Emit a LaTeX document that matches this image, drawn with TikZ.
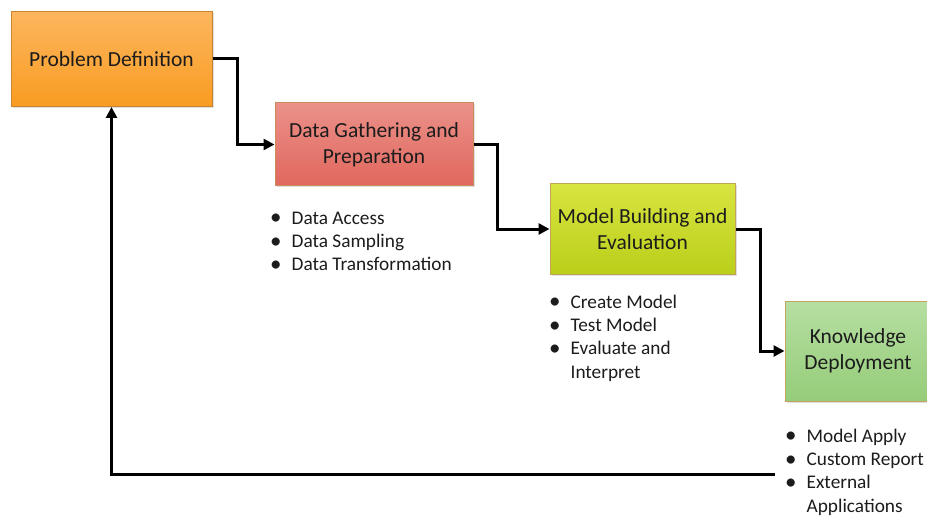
\documentclass[tikz,border=0pt]{standalone}
\usepackage{fontspec}
\setmainfont{Carlito}
\usetikzlibrary{arrows.meta,shadows}

\definecolor{orangeTop}{HTML}{FDB65E}
\definecolor{orangeBot}{HTML}{F89C22}
\definecolor{orangeLine}{HTML}{C8842E}
\definecolor{redTop}{HTML}{EB9189}
\definecolor{redBot}{HTML}{E0675E}
\definecolor{redLine}{HTML}{C98C5C}
\definecolor{limeTop}{HTML}{D8E440}
\definecolor{limeBot}{HTML}{BACF1A}
\definecolor{limeLine}{HTML}{C2A453}
\definecolor{greenTop}{HTML}{B6DFA2}
\definecolor{greenBot}{HTML}{95CC79}
\definecolor{greenLine}{HTML}{C4A462}
\definecolor{ink}{HTML}{1C1C1C}

\tikzset{
  stage/.style={rectangle, line width=1pt, inner sep=0pt, align=center,
    text=ink, font=\fontsize{21.5}{26}\selectfont,
    drop shadow={shadow xshift=1.5pt, shadow yshift=-1.5pt, opacity=0.25}},
  conn/.style={line width=3pt, draw=black,
    -{Triangle[length=11pt,width=11pt]}},
  items/.style={anchor=north west, inner sep=0pt, text=ink,
    font=\fontsize{19.3}{23.2}\selectfont}
}
\newcommand{\bulletlist}[1]{%
  \begin{tabular}{@{}l@{\hspace{10pt}}l@{}}#1\end{tabular}}
\newcommand{\itm}{\raisebox{-0.5pt}{\fontsize{23}{23}\selectfont\textbullet}}

\begin{document}
\begin{tikzpicture}[x=1pt,y=-1pt]
  \useasboundingbox (0,0) rectangle (927,516);

  % process stages
  \node[stage, draw=orangeLine, top color=orangeTop, bottom color=orangeBot,
        minimum width=201pt, minimum height=95pt] (b1) at (111.5,59)
        {Problem Definition};
  \node[stage, draw=redLine, top color=redTop, bottom color=redBot,
        minimum width=198pt, minimum height=83pt] (b2) at (374,144.5)
        {Data Gathering and\\Preparation};
  \node[stage, draw=limeLine, top color=limeTop, bottom color=limeBot,
        minimum width=185pt, minimum height=90pt] (b3) at (642.5,229)
        {Model Building and\\Evaluation};
  \node[stage, draw=greenLine, top color=greenTop, bottom color=greenBot,
        minimum width=146pt, minimum height=100pt] (b4) at (858,351)
        {Knowledge\\Deployment};

  % task lists under each stage
  \node[items] (l2) at (270,208)
    {\bulletlist{\itm & Data Access\\ \itm & Data Sampling\\ \itm & Data Transformation}};
  \node[items] (l3) at (549,292)
    {\bulletlist{\itm & Create Model\\ \itm & Test Model\\ \itm & Evaluate and\\ & Interpret}};
  \node[items] (l4) at (785,426)
    {\bulletlist{\itm & Model Apply\\ \itm & Custom Report\\ \itm & External\\ & Applications}};

  % stage-to-stage flow
  \draw[conn] (b1.east) -- ++(25,0) |- (b2.west);
  \draw[conn] (b2.east) -- ++(24,0) |- (b3.west);
  \draw[conn] (b3.east) -- ++(25,0) |- (b4.west);

  % feedback loop back to the start
  \coordinate (fb) at (775,474);
  \draw[conn] (fb) -| (b1.south);
\end{tikzpicture}
\end{document}
